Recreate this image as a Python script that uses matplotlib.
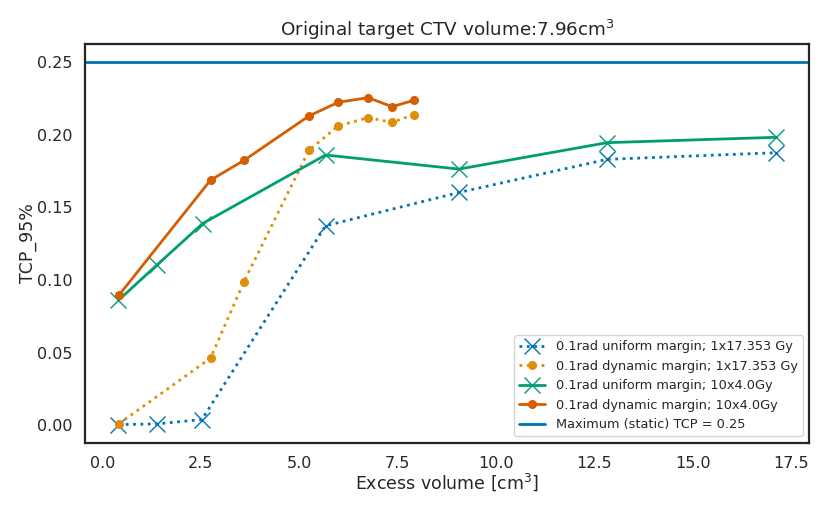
import numpy as np
import matplotlib
matplotlib.use("Agg")
import matplotlib.pyplot as plt
import seaborn as sns

sns.set_theme(style="white", context="notebook", palette="colorblind")
plt.rcParams['font.family'] = ['DejaVu Sans']

# excess volume [cm3] and TCP_95% per run
x_uni_single = [0.41, 1.39, 2.53, 5.67, 9.06, 12.82, 17.12]
tcp_uni_single = [0.0004, 0.0009, 0.0039, 0.1373, 0.1603, 0.1831, 0.1877]

x_dyn_single = [0.42, 2.75, 3.60, 5.25, 5.99, 6.75, 7.36, 7.92]
tcp_dyn_single = [0.0009, 0.0462, 0.0989, 0.1893, 0.2061, 0.2118, 0.2086, 0.2139]

x_uni_frac = [0.41, 1.40, 2.55, 5.67, 9.06, 12.82, 17.12]
tcp_uni_frac = [0.0860, 0.1106, 0.1389, 0.1861, 0.1764, 0.1946, 0.1983]

x_dyn_frac = [0.42, 2.75, 3.60, 5.25, 5.99, 6.75, 7.36, 7.92]
tcp_dyn_frac = [0.0894, 0.1688, 0.1824, 0.2130, 0.2224, 0.2256, 0.2194, 0.2238]

tcp_static = 0.25
ctv_volume = 7.96

col = sns.color_palette("colorblind")

fig, ax = plt.subplots(figsize=(8.3, 5.13), dpi=100)

ax.plot(x_uni_single, tcp_uni_single, linestyle=':', marker='x', markersize=11,
        linewidth=2, color=col[0], label='0.1rad uniform margin; 1x17.353 Gy')
ax.plot(x_dyn_single, tcp_dyn_single, linestyle=':', marker='o', markersize=5.5,
        linewidth=2, color=col[1], label='0.1rad dynamic margin; 1x17.353 Gy')
ax.plot(x_uni_frac, tcp_uni_frac, linestyle='-', marker='x', markersize=11,
        linewidth=2, color=col[2], label='0.1rad uniform margin; 10x4.0Gy')
ax.plot(x_dyn_frac, tcp_dyn_frac, linestyle='-', marker='o', markersize=5.5,
        linewidth=2, color=col[3], label='0.1rad dynamic margin; 10x4.0Gy')
ax.axhline(tcp_static, color=col[0], linewidth=2,
           label='Maximum (static) TCP = %.2f' % tcp_static)

ax.set_title('Original target CTV volume:%.2fcm$^3$' % ctv_volume, fontsize=13.2)
ax.set_xlabel('Excess volume [cm$^3$]', fontsize=12.5, labelpad=0)
ax.set_ylabel('TCP_95%', fontsize=12.5, labelpad=0)
ax.tick_params(labelsize=11.5)
for s in ax.spines.values():
    s.set_color('.15')
    s.set_linewidth(1.6)

ax.legend(loc='lower right', fontsize=9.3)

plt.subplots_adjust(left=0.103, right=0.975, top=0.914, bottom=0.137)
plt.savefig('out.png')
